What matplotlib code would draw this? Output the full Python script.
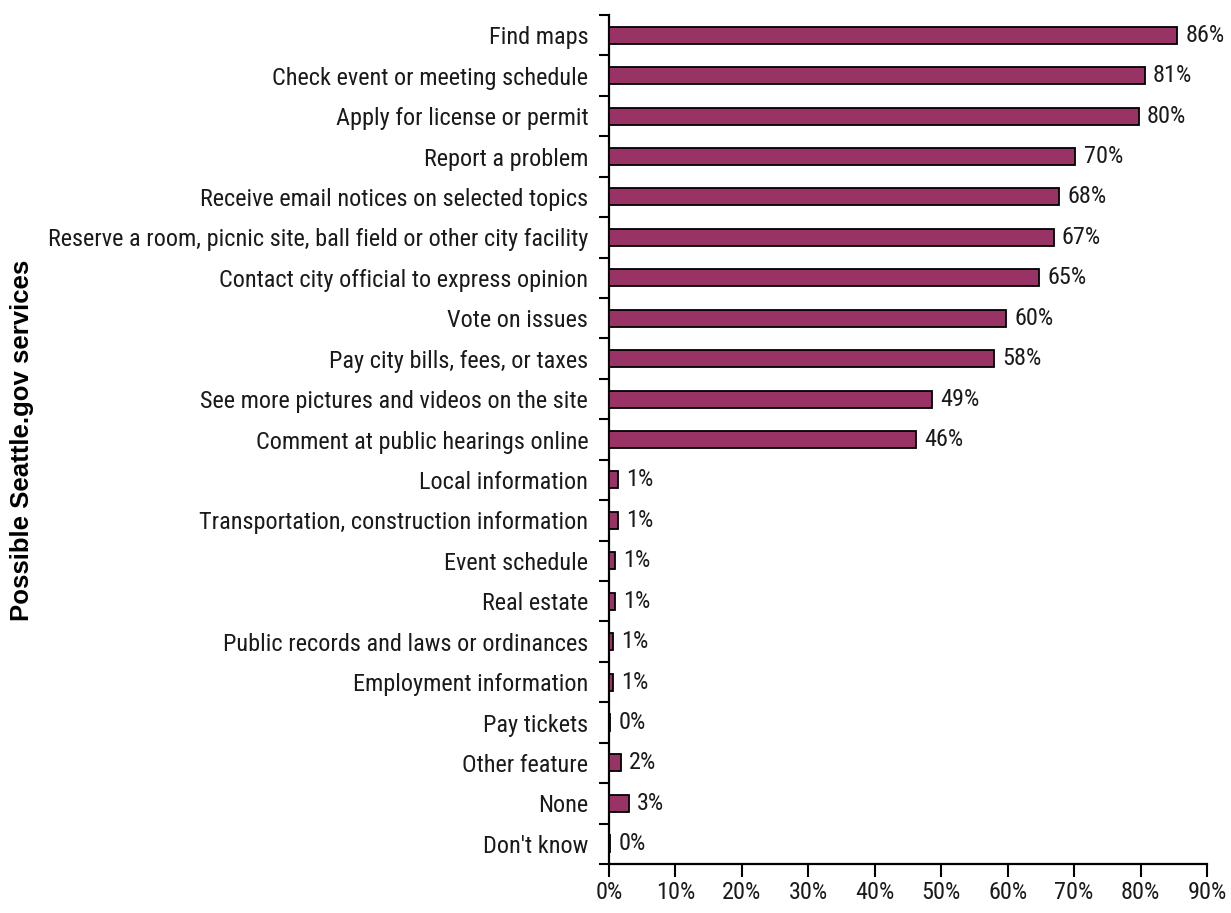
import matplotlib
matplotlib.use("Agg")
import matplotlib.pyplot as plt
import numpy as np
from matplotlib.ticker import FixedLocator, PercentFormatter

categories = [
    "Find maps",
    "Check event or meeting schedule",
    "Apply for license or permit",
    "Report a problem",
    "Receive email notices on selected topics",
    "Reserve a room, picnic site, ball field or other city facility",
    "Contact city official to express opinion",
    "Vote on issues",
    "Pay city bills, fees, or taxes",
    "See more pictures and videos on the site",
    "Comment at public hearings online",
    "Local information",
    "Transportation, construction information",
    "Event schedule",
    "Real estate",
    "Public records and laws or ordinances",
    "Employment information",
    "Pay tickets",
    "Other feature",
    "None",
    "Don't know",
]
values = [85.5, 80.6, 79.7, 70.2, 67.8, 66.9, 64.7, 59.7, 57.9, 48.6, 46.2,
          1.3, 1.3, 0.9, 0.9, 0.6, 0.6, 0.2, 1.8, 3.0, 0.2]
value_labels = ["86%", "81%", "80%", "70%", "68%", "67%", "65%", "60%", "58%", "49%", "46%",
                "1%", "1%", "1%", "1%", "1%", "1%", "0%", "2%", "3%", "0%"]
x_ticks = [0, 10, 20, 30, 40, 50, 60, 70, 80, 90]

narrow = ["Roboto Condensed", "DejaVu Sans Condensed", "DejaVu Sans"]
plt.rcParams["font.family"] = narrow

FS = 17.5
TXT = "#1a1a1a"

fig = plt.figure(figsize=(12.31, 9.13), dpi=100)
ax = fig.add_axes([609 / 1231, 1 - 864 / 913, (1207 - 609) / 1231, (864 - 15) / 913])

y = np.arange(len(categories))
ax.barh(y, values, height=0.42, color="#993366", edgecolor="black", linewidth=1.3, zorder=3)

for yi, v, lab in zip(y, values, value_labels):
    ax.annotate(lab, xy=(v, yi), xytext=(6, 0), textcoords="offset points",
                ha="left", va="center", fontsize=FS, color=TXT)

ax.set_xlim(0, 90)
ax.set_ylim(len(categories) - 0.5, -0.5)

ax.set_yticks(y)
ax.set_yticklabels(categories, fontsize=FS, color=TXT)
ax.yaxis.set_minor_locator(FixedLocator(np.arange(-0.5, len(categories) + 0.5, 1.0)))
ax.tick_params(axis="y", which="major", length=0, pad=15)
ax.tick_params(axis="y", which="minor", length=7, width=1.5, direction="out")

ax.set_xticks(x_ticks)
ax.xaxis.set_major_formatter(PercentFormatter(decimals=0))
ax.tick_params(axis="x", which="major", length=9, width=1.5, direction="out",
               labelsize=FS, pad=3, labelcolor=TXT)

for s in ["top", "right"]:
    ax.spines[s].set_visible(False)
for s in ["left", "bottom"]:
    ax.spines[s].set_linewidth(1.6)

fig.text(22 / 1231, 1 - 440 / 913, "Possible Seattle.gov services", rotation=90,
         ha="center", va="center", fontsize=18.5, fontweight="bold",
         family=["Liberation Sans", "DejaVu Sans"])

fig.savefig("out.png", dpi=100)
